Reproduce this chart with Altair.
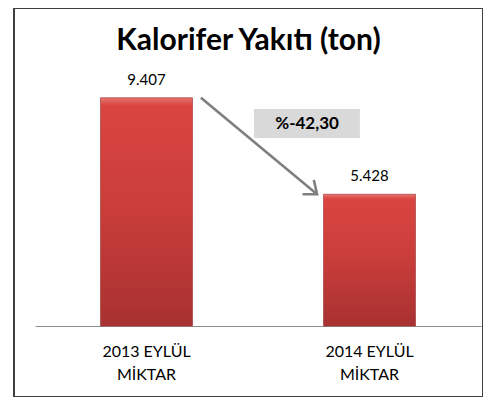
import altair as alt
import pandas as pd

categories = ["2013 EYLÜL MİKTAR", "2014 EYLÜL MİKTAR"]
values = [9407, 5428]
title_text = "Kalorifer Yakıtı (ton)"

pct = (values[1] - values[0]) / values[0] * 100
pct_label = "%" + f"{pct:.2f}".replace(".", ",")

df = pd.DataFrame({"cat": categories, "val": values})
ann = pd.DataFrame({
    "c1": [categories[0]], "c2": [categories[1]],
    "v1": [values[0]], "v2": [values[1]], "pct": [pct_label], "title": [title_text],
})

FONT = "Lato"
xscale = alt.Scale(domain=categories, range=[21, 467], paddingInner=0, paddingOuter=0)
yscale = alt.Scale(domain=[0, 11000], range=[318, 51])

label_expr = ("[substring(datum.label, 0, lastindexof(datum.label, ' ')), "
              "substring(datum.label, lastindexof(datum.label, ' ') + 1)]")

x_enc = alt.X("cat:N", scale=xscale, axis=alt.Axis(
    title=None, labelExpr=label_expr, ticks=False, domainColor="#8c8c8c",
    domainWidth=1.2, labelFont=FONT, labelFontSize=16, labelFontWeight="normal",
    labelColor="#000000", labelPadding=17, labelLineHeight=23, labelAngle=0,
    offset=-71, grid=False))
y_enc = alt.Y("val:Q", scale=yscale, axis=None)

grad = alt.Gradient(
    gradient="linear", x1=0, x2=0, y1=0, y2=1,
    stops=[alt.GradientStop(color="#e77470", offset=0),
           alt.GradientStop(color="#da4541", offset=0.035),
           alt.GradientStop(color="#c83d3a", offset=0.5),
           alt.GradientStop(color="#a83131", offset=1)])

bars = alt.Chart(df).mark_bar(size=92, color=grad, stroke="#9a3030", strokeWidth=0.6).encode(
    x=x_enc, y=y_enc)

labels = alt.Chart(df).transform_calculate(
    lbl="replace(format(datum.val, ','), ',', '.')"
).mark_text(dy=-13, baseline="alphabetic", font=FONT, fontSize=15, color="#000000").encode(
    x=alt.X("cat:N", scale=xscale), y=alt.Y("val:Q", scale=yscale), text="lbl:N")

arrow = alt.Chart(ann).mark_rule(color="#7f7f7f", strokeWidth=2.6).encode(
    x=alt.X("c1:N", scale=xscale, bandPosition=0.744),
    x2=alt.X2("c2:N", bandPosition=0.265),
    y=alt.Y("v1:Q", scale=yscale), y2="v2:Q")

head = alt.Chart(ann).mark_point(
    shape="M-1,-0.8L0,0L-1,0.8", filled=False, color="#7f7f7f", strokeWidth=2.6,
    size=520, angle=38.4, opacity=1).encode(
    x=alt.X("c2:N", scale=xscale, bandPosition=0.265),
    y=alt.Y("v2:Q", scale=yscale))

box = alt.Chart(ann).mark_rect(color="#d9d9d9").encode(
    x=alt.X("c1:N", scale=xscale, bandPosition=0.982),
    x2=alt.X2("c2:N", bandPosition=0.457),
    y=alt.Y(datum=8940, scale=yscale), y2=alt.Y2(datum=7745))

pct_text = alt.Chart(ann).mark_text(font=FONT, fontSize=17, fontWeight="bold",
                                    color="#000000", baseline="middle").encode(
    x=alt.X("c2:N", scale=xscale, bandPosition=0.22),
    y=alt.Y(datum=8342, scale=yscale), text="pct:N")

title = alt.Chart(ann).mark_text(font=FONT, fontSize=30, fontWeight="bold",
                                 color="#000000", baseline="alphabetic", align="center").encode(
    x=alt.value(234.5), y=alt.value(42), text="title:N")

chart = alt.layer(bars, labels, box, pct_text, arrow, head, title).properties(
    width=469, height=389,
    autosize=alt.AutoSizeParams(type="none"),
    padding={"left": 6, "top": 0, "right": 0, "bottom": 0},
).configure_view(stroke="#3f3f3f", strokeWidth=2)

chart.save("out.html", embed_options={"renderer": "svg", "actions": False})
